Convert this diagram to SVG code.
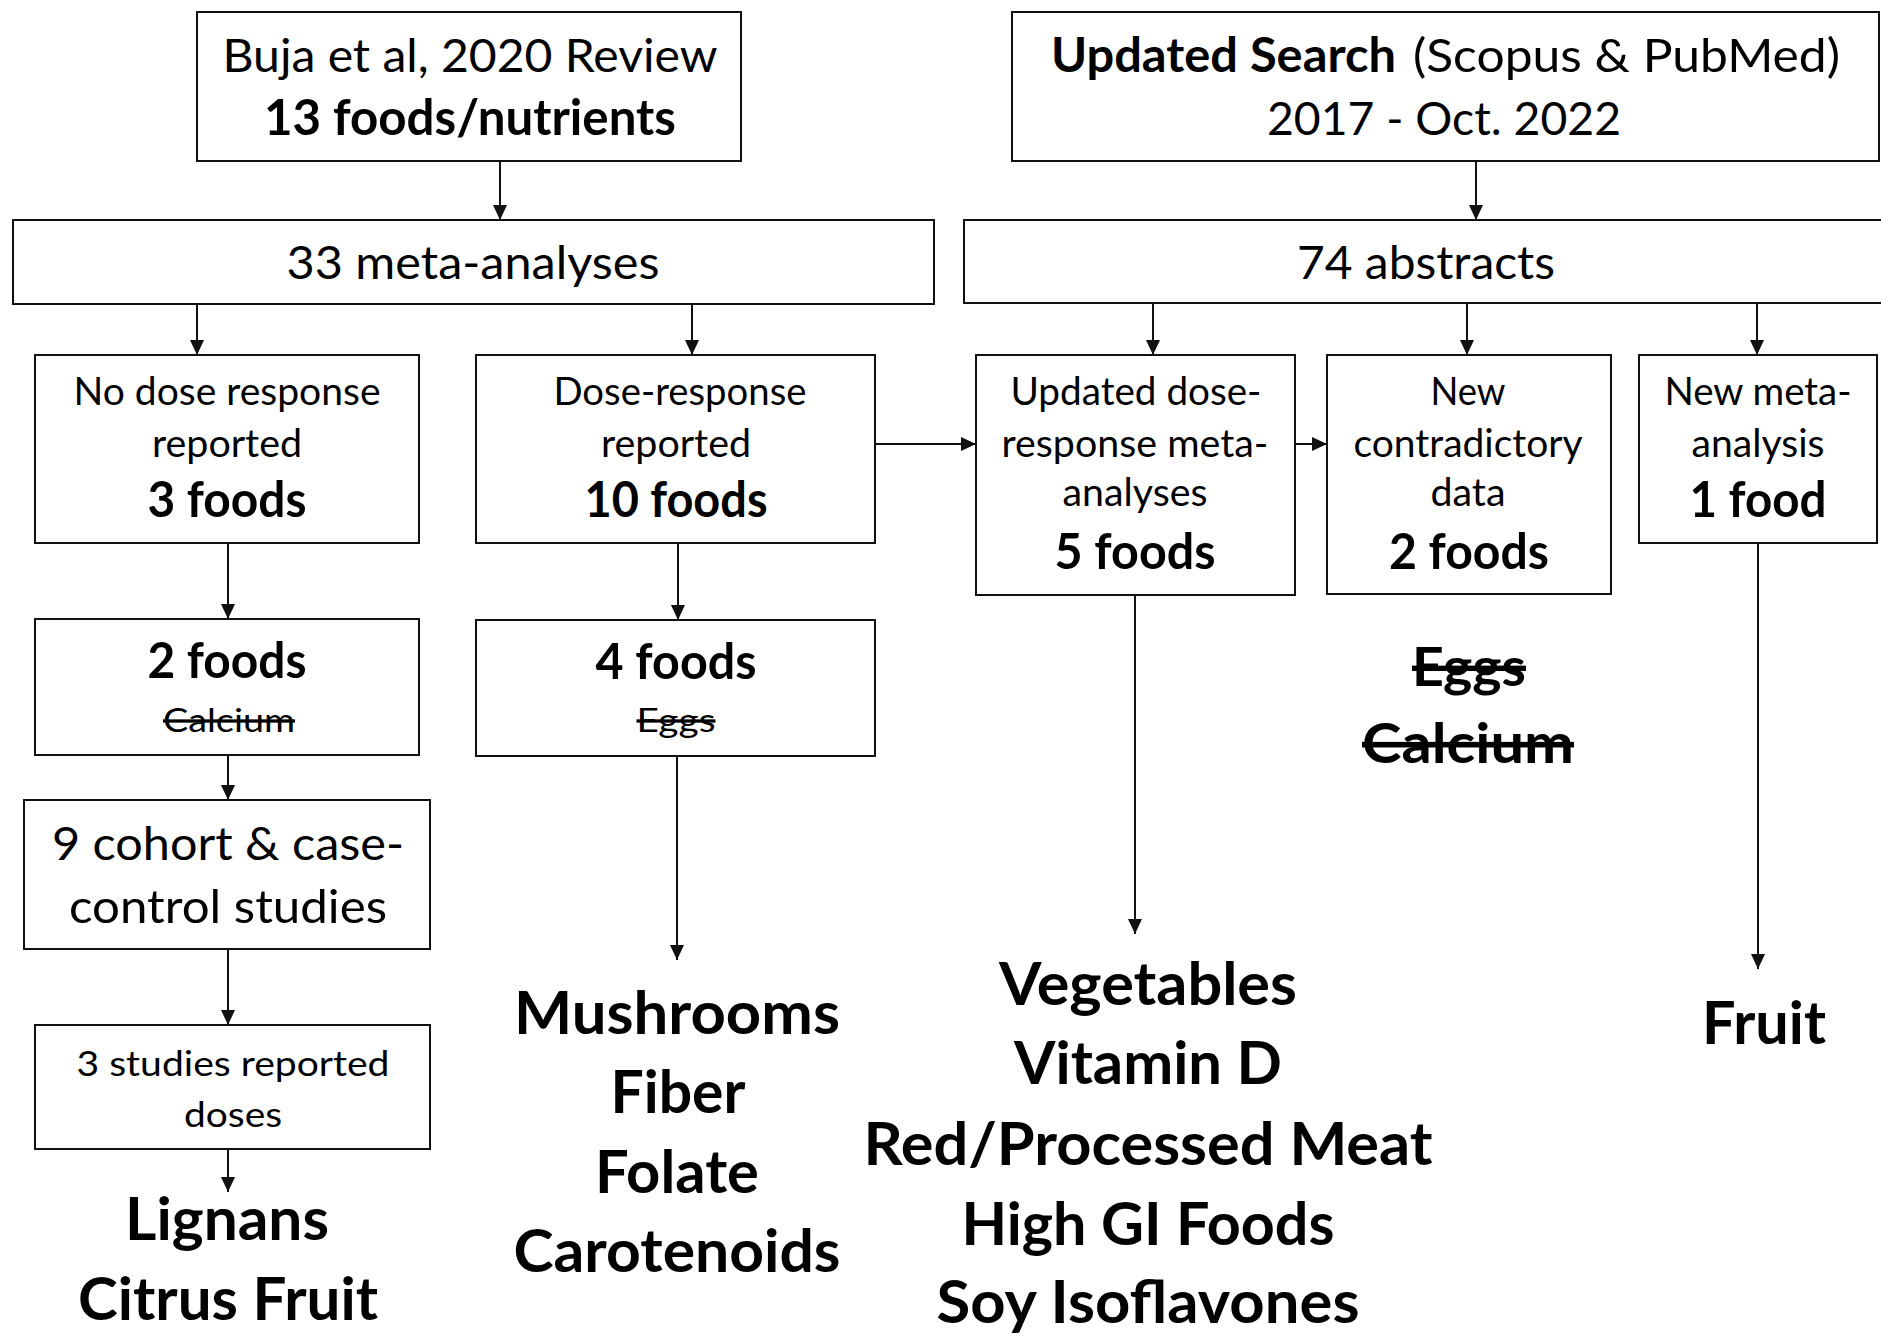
<svg xmlns="http://www.w3.org/2000/svg" width="1881" height="1340" viewBox="0 0 1881 1340">
<style>
  text { font-family: Lato, "Open Sans", "DejaVu Sans", sans-serif; fill: #000; text-anchor: middle; }
  .b { font-weight: 700; }
  .t1 { font-size: 47px; }
  .tb { font-size: 49px; }
  .t2 { font-size: 38px; }
  .t3 { font-size: 60px; }
  .st { text-decoration: line-through; }
  rect { fill: #fff; stroke: #111; stroke-width: 2; }
  .conn line { stroke: #111; stroke-width: 2; marker-end: url(#ah); }
</style>
<defs>
  <marker id="ah" markerUnits="userSpaceOnUse" markerWidth="15" markerHeight="14" refX="15" refY="7" orient="auto">
    <path d="M0,0 L15,7 L0,14 z" fill="#111"/>
  </marker>
</defs>
<rect x="0" y="0" width="1881" height="1340" style="stroke:none"/>

<g class="conn" id="connectors">
  <line x1="500" y1="161" x2="500" y2="220"/>
  <line x1="1476" y1="161" x2="1476" y2="220"/>
  <line x1="197" y1="304" x2="197" y2="355"/>
  <line x1="692" y1="304" x2="692" y2="355"/>
  <line x1="1153" y1="303" x2="1153" y2="355"/>
  <line x1="1467" y1="303" x2="1467" y2="355"/>
  <line x1="1757" y1="303" x2="1757" y2="355"/>
  <line x1="228" y1="543" x2="228" y2="619"/>
  <line x1="678" y1="543" x2="678" y2="620"/>
  <line x1="876" y1="444" x2="976" y2="444"/>
  <line x1="1295" y1="444" x2="1327" y2="444"/>
  <line x1="228" y1="755" x2="228" y2="800"/>
  <line x1="228" y1="949" x2="228" y2="1025"/>
  <line x1="228" y1="1149" x2="228" y2="1192"/>
  <line x1="677" y1="756" x2="677" y2="960"/>
  <line x1="1135" y1="595" x2="1135" y2="934"/>
  <line x1="1758" y1="543" x2="1758" y2="969"/>
</g>

<g id="buja">
  <rect x="197" y="12" width="544" height="149"/>
  <text class="t1" x="470" y="72" textLength="495" lengthAdjust="spacingAndGlyphs">Buja et al, 2020 Review</text>
  <text class="tb b" x="470" y="135" textLength="412" lengthAdjust="spacingAndGlyphs">13 foods/nutrients</text>
</g>

<g id="updated-search">
  <rect x="1012" y="12" width="867" height="149"/>
  <text class="t1" y="72" style="text-anchor:start"><tspan class="b" x="1051" textLength="345" lengthAdjust="spacingAndGlyphs">Updated Search</tspan><tspan x="1413" textLength="427" lengthAdjust="spacingAndGlyphs">(Scopus &amp; PubMed)</tspan></text>
  <text class="t1" x="1444" y="135" textLength="354" lengthAdjust="spacingAndGlyphs">2017 - Oct. 2022</text>
</g>

<g id="meta33">
  <rect x="13" y="220" width="921" height="84"/>
  <text class="t1" x="473" y="279" textLength="373" lengthAdjust="spacingAndGlyphs">33 meta-analyses</text>
</g>

<g id="abstracts74">
  <rect x="964" y="220" width="926" height="83"/>
  <text class="t1" x="1426" y="279" textLength="258" lengthAdjust="spacingAndGlyphs">74 abstracts</text>
</g>

<g id="no-dose">
  <rect x="35" y="355" width="384" height="188"/>
  <text class="t2" x="227" y="405" textLength="307" lengthAdjust="spacingAndGlyphs">No dose response</text>
  <text class="t2" x="227" y="457" textLength="150" lengthAdjust="spacingAndGlyphs">reported</text>
  <text class="tb b" x="227" y="517" textLength="159" lengthAdjust="spacingAndGlyphs">3 foods</text>
</g>

<g id="dose-response">
  <rect x="476" y="355" width="399" height="188"/>
  <text class="t2" x="680" y="405" textLength="253" lengthAdjust="spacingAndGlyphs">Dose-response</text>
  <text class="t2" x="676" y="457" textLength="150" lengthAdjust="spacingAndGlyphs">reported</text>
  <text class="tb b" x="676" y="517" textLength="183" lengthAdjust="spacingAndGlyphs">10 foods</text>
</g>

<g id="two-foods">
  <rect x="35" y="619" width="384" height="136"/>
  <text class="tb b" x="227" y="678" textLength="159" lengthAdjust="spacingAndGlyphs">2 foods</text>
  <text class="st" style="font-size:33px" x="229" y="732" textLength="132" lengthAdjust="spacingAndGlyphs">Calcium</text>
</g>

<g id="four-foods">
  <rect x="476" y="620" width="399" height="136"/>
  <text class="tb b" x="676" y="679" textLength="161" lengthAdjust="spacingAndGlyphs">4 foods</text>
  <text class="st" style="font-size:33px" x="676" y="732" textLength="79" lengthAdjust="spacingAndGlyphs">Eggs</text>
</g>

<g id="cohort">
  <rect x="24" y="800" width="406" height="149"/>
  <text class="t1" x="228" y="860" textLength="352" lengthAdjust="spacingAndGlyphs">9 cohort &amp; case-</text>
  <text class="t1" x="228" y="923" textLength="318" lengthAdjust="spacingAndGlyphs">control studies</text>
</g>

<g id="three-studies">
  <rect x="35" y="1025" width="395" height="124"/>
  <text style="font-size:34px" x="233" y="1076" textLength="313" lengthAdjust="spacingAndGlyphs">3 studies reported</text>
  <text style="font-size:34px" x="233" y="1127" textLength="98" lengthAdjust="spacingAndGlyphs">doses</text>
</g>

<g id="updated-dose">
  <rect x="976" y="355" width="319" height="240"/>
  <text class="t2" x="1136" y="405" textLength="251" lengthAdjust="spacingAndGlyphs">Updated dose-</text>
  <text class="t2" x="1135" y="457" textLength="267" lengthAdjust="spacingAndGlyphs">response meta-</text>
  <text class="t2" x="1135" y="506" textLength="145" lengthAdjust="spacingAndGlyphs">analyses</text>
  <text class="tb b" x="1135" y="569" textLength="161" lengthAdjust="spacingAndGlyphs">5 foods</text>
</g>

<g id="contradictory">
  <rect x="1327" y="355" width="284" height="239"/>
  <text class="t2" x="1468" y="405" textLength="75" lengthAdjust="spacingAndGlyphs">New</text>
  <text class="t2" x="1468" y="457" textLength="229" lengthAdjust="spacingAndGlyphs">contradictory</text>
  <text class="t2" x="1468" y="506" textLength="75" lengthAdjust="spacingAndGlyphs">data</text>
  <text class="tb b" x="1469" y="569" textLength="160" lengthAdjust="spacingAndGlyphs">2 foods</text>
</g>

<g id="new-meta">
  <rect x="1639" y="355" width="238" height="188"/>
  <text class="t2" x="1758" y="405" textLength="187" lengthAdjust="spacingAndGlyphs">New meta-</text>
  <text class="t2" x="1758" y="457" textLength="133" lengthAdjust="spacingAndGlyphs">analysis</text>
  <text class="tb b" x="1758" y="517" textLength="137" lengthAdjust="spacingAndGlyphs">1 food</text>
</g>

<g id="excluded">
  <text class="b st" style="font-size:54px" x="1469" y="686" textLength="114" lengthAdjust="spacingAndGlyphs">Eggs</text>
  <text class="b st" style="font-size:56px" x="1468" y="763" textLength="212" lengthAdjust="spacingAndGlyphs">Calcium</text>
</g>

<g id="result-left">
  <text class="t3 b" x="227" y="1240" textLength="204" lengthAdjust="spacingAndGlyphs">Lignans</text>
  <text class="t3 b" x="228" y="1320" textLength="300" lengthAdjust="spacingAndGlyphs">Citrus Fruit</text>
</g>

<g id="result-dose">
  <text class="t3 b" x="677" y="1034" textLength="326" lengthAdjust="spacingAndGlyphs">Mushrooms</text>
  <text class="t3 b" x="678" y="1113" textLength="135" lengthAdjust="spacingAndGlyphs">Fiber</text>
  <text class="t3 b" x="677" y="1193" textLength="164" lengthAdjust="spacingAndGlyphs">Folate</text>
  <text class="t3 b" x="677" y="1272" textLength="327" lengthAdjust="spacingAndGlyphs">Carotenoids</text>
</g>

<g id="result-updated">
  <text class="t3 b" x="1148" y="1005" textLength="298" lengthAdjust="spacingAndGlyphs">Vegetables</text>
  <text class="t3 b" x="1148" y="1084" textLength="268" lengthAdjust="spacingAndGlyphs">Vitamin D</text>
  <text class="t3 b" x="1148" y="1165" textLength="569" lengthAdjust="spacingAndGlyphs">Red/Processed Meat</text>
  <text class="t3 b" x="1148" y="1245" textLength="373" lengthAdjust="spacingAndGlyphs">High GI Foods</text>
  <text class="t3 b" x="1148" y="1323" textLength="423" lengthAdjust="spacingAndGlyphs">Soy Isoflavones</text>
</g>

<g id="result-new">
  <text class="t3 b" x="1764" y="1044" textLength="124" lengthAdjust="spacingAndGlyphs">Fruit</text>
</g>
</svg>
